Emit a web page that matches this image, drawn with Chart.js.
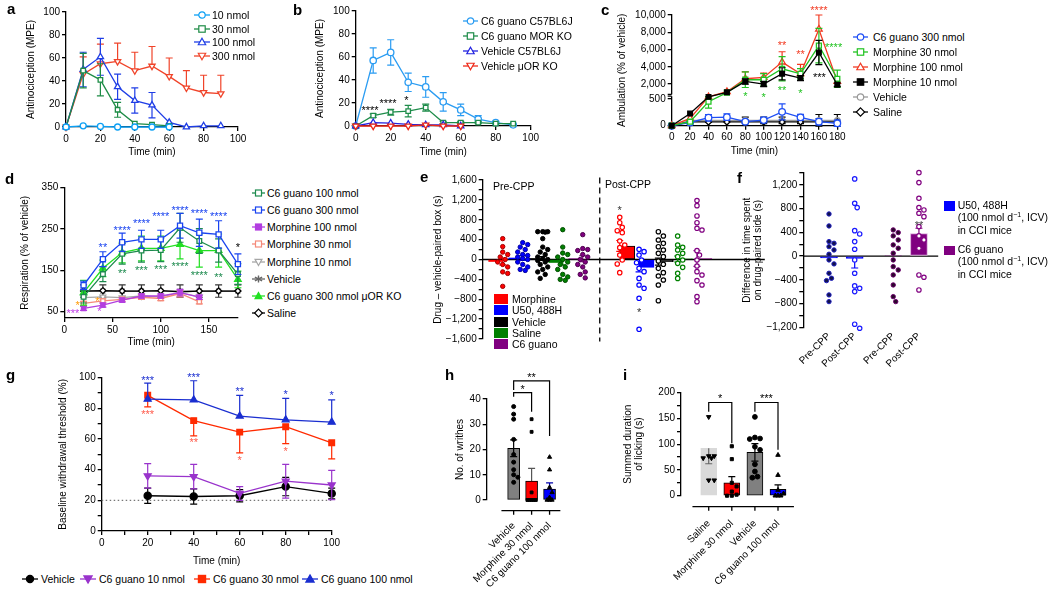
<!DOCTYPE html>
<html>
<head>
<meta charset="utf-8">
<title>Figure</title>
<script src="https://cdn.jsdelivr.net/npm/chart.js@4.4.1/dist/chart.umd.min.js"></script>
<style>
  html, body { margin: 0; padding: 0; background: #fff; }
  body { position: relative; width: 1050px; height: 591px; overflow: hidden; font-family: "Liberation Sans", Arial, sans-serif; color: #000; }
  canvas { position: absolute; }
  .letter { position: absolute; font-weight: bold; font-size: 15px; line-height: 15px; }
  .row { position: absolute; display: flex; align-items: center; height: 12px; font-size: 10.5px; white-space: nowrap; }
  .row svg { flex: none; }
  .txt { position: absolute; font-size: 10.5px; white-space: nowrap; line-height: 12px; }
  .txt sup { font-size: 7px; line-height: 0; }
</style>
</head>
<body>
<script>
const FONT = '"Liberation Sans", Arial, Helvetica, sans-serif';

// ---- a: antinociception by dose ----
const aTime = [0, 10, 20, 30, 40, 50, 60, 70, 80, 90];
const a10nmol = [0, 1, 0.5, 0, 0, 0, 0];
const a30nmol = [0, 49, 41, 15, 3, 2, 1];
const a30Sem = [0, 15, 14, 6.5, 0, 0, 0];
const a100nmol = [0, 50, 61, 35, 23, 19, 4, 0, 1, 1];
const a100Sem = [0, 15, 16, 11, 11, 11, 0, 0, 0, 0];
const a300nmol = [0, 46, 55, 57, 49, 53, 44, 34, 30, 29];
const a300Sem = [0, 15, 17, 16, 16, 17, 16, 15, 15, 16];
const aNames = ['10 nmol', '30 nmol', '100 nmol', '300 nmol'];
const aTicks = [0, 20, 40, 60, 80, 100];

// ---- b: knockout ----
const bTime = [0, 10, 20, 30, 40, 50, 60, 70, 80, 90];
const bC6Wt = [0, 57, 64, 38, 34, 21, 14, 6, 3, 1];
const bC6WtSem = [0, 11, 11, 8, 9, 8, 5, 3, 1, 0];
const bC6Ko = [0, 9, 12, 13, 16, 3, 3, 3, 2, 2];
const bC6KoSem = [0, 1.5, 2.5, 5, 3, 1, 1, 1, 0, 0];
const bVehWt = [0, 3, 2.5, 1.5, 1, 1, 0];
const bVehKo = [0, 0, 0, 0, 1, 0, 0];
const bNames = ['C6 guano C57BL6J', 'C6 guano MOR KO', 'Vehicle C57BL6J', 'Vehicle μOR KO'];

// ---- c: ambulation ----
const cTime = [0, 20, 40, 60, 80, 100, 120, 140, 160, 180];
const cC6 = [0, 60, 150, 160, 75, 105, 260, 157, 75, 45];
const cC6Sem = [0, 20, 60, 60, 30, 50, 150, 55, 60, 60];
const cMor30 = [0, 75, 450, 1000, 2500, 2500, 3770, 3190, 6460, 2610];
const cMor30Sem = [0, 20, 120, 0, 900, 700, 1400, 600, 2000, 1000];
const cMor100 = [0, 137, 543, 1107, 2615, 2770, 4540, 3190, 8350, 2300];
const cMor100Sem = [0, 0, 0, 0, 800, 500, 1200, 1100, 1650, 0];
const cMor10 = [0, 230, 543, 1040, 2300, 2000, 3190, 2690, 5650, 1920];
const cMor10Sem = [0, 0, 0, 0, 300, 300, 700, 300, 1400, 200];
const cVeh = [0, 100, 100, 100, 100, 100, 100, 100, 100, 100];
const cVehSem = [0, 0, 40, 0, 60, 60, 60, 60, 110, 110];
const cSal = [0, 70, 70, 70, 70, 70, 70, 70, 70, 70];
const cNames = ['C6 guano 300 nmol', 'Morphine 30 nmol', 'Morphine 100 nmol', 'Morphine 10 nmol', 'Vehicle', 'Saline'];
const cTicksY = [0, 500, 2000, 4000, 6000, 8000, 10000];
const cTicksX = [0, 20, 40, 60, 80, 100, 120, 140, 160, 180];

// ---- d: respiration ----
const dTime = [20, 40, 60, 80, 100, 120, 140, 160, 180];
const dC6g100 = [86, 141, 190, 198, 199, 253, 221, 198, 141];
const dC6g100Sem = [15, 18, 25, 28, 28, 35, 30, 28, 25];
const dC6g300 = [114, 177, 218, 225, 225, 258, 241, 237, 165];
const dC6g300Sem = [10, 18, 22, 22, 22, 30, 33, 33, 25];
const dMor100 = [58, 66, 78, 88, 88, 96, 85];
const dMor100Sem = [5, 5, 5, 5, 5, 8, 5];
const dMor30 = [70, 76, 80, 85, 82, 94, 74];
const dMor30Sem = [5, 5, 5, 5, 5, 8, 5];
const dMor10 = [84, 86, 84, 88, 86, 96, 86];
const dVeh = [100, 100, 100, 100, 100, 100, 100, 100, 100];
const dVehSem = [15, 15, 15, 15, 15, 15, 15, 15, 15];
const dC6Ko = [96, 155, 193, 203, 203, 213, 198, 198, 128];
const dC6KoSem = [30, 20, 25, 30, 30, 35, 40, 40, 20];
const dSal = [100, 101, 100, 100, 101, 98, 100, 100, 100];
const dNames = ['C6 guano 100 nmol', 'C6 guano 300 nmol', 'Morphine 100 nmol', 'Morphine 30 nmol', 'Morphine 10 nmol', 'Vehicle', 'C6 guano 300 nmol μOR KO', 'Saline'];

// ---- e: CPP ----
const eGroups = ['Morphine', 'U50, 488H', 'Vehicle', 'Saline', 'C6 guano'];
const ePre = [
  [420, 260, 150, 100, 50, 0, -50, -100, -150, -250, -280, -540],
  [340, 300, 250, 200, 150, 100, 80, 50, 20, 0, -50, -100, -150, -200, -220],
  [560, 560, 560, 550, 420, 250, 200, 150, 100, 50, 20, 0, -20, -50, -100, -150, -200, -250, -300, -380],
  [600, 250, 130, 100, 50, 0, -50, -100, -150, -200, -300, -350, -400, -420],
  [500, 220, 200, 180, 100, 50, 0, -50, -100, -150, -250, -300, -370]
];
const ePost = [
  [849, 741, 648, 580, 540, 372, 292, 238, 90, -10, -90, -265],
  [205, 158, 90, -10, -64, -178, -245, -380, -513, -580, -781, -1405],
  [560, 473, 392, 325, 258, 191, 124, 57, -30, -97, -178, -265, -332, -413, -513, -829],
  [473, 292, 245, 191, 124, 57, -10, -77, -158, -278, -380],
  [1185, 1084, 876, 741, 628, 594, 178, 90, -10, -131, -245, -312, -426, -513, -748, -849]
];
const eMeanPre = [-40, 30, 20, -60, 15];
const eSemPre = [70, 50, 40, 50, 60];
const eMeanPost = [272, -158, -44, 10, 20];
const eSemPost = [110, 90, 70, 60, 160];

// ---- f: CPP in CCI mice ----
const fCats = ['Pre-CPP', 'Post-CPP', 'Pre-CPP', 'Post-CPP'];
const fPreU50 = [711, 509, 245, 217, 160, 104, 32, -64, -131, -289, -373, -413, -654, -767];
const fPostU50 = [1302, 892, 818, 430, 374, 245, 116, -64, -289, -502, -542, -598, -1148, -1216];
const fPreC6 = [442, 397, 341, 273, 189, 133, 49, -64, -177, -233, -317, -486, -683, -767];
const fPostC6 = [1408, 1240, 976, 818, 779, 723, 666, 498, 341, 273, 133, -317, -356, -570];
const fMeans = [-30, -40, 10, 380];
const fSem = [0, 160, 0, 90];

// ---- g: withdrawal threshold ----
const gTime = [20, 40, 60, 80, 100];
const gVeh = [23, 22.5, 23, 29, 24.5];
const gVehSem = [5, 5, 4, 6, 3.5];
const gC6g10 = [36, 35.5, 24.5, 32.5, 30];
const gC6g10Sem = [8, 8, 4.5, 11, 9.5];
const gC6g30 = [88.5, 72, 64.5, 68, 57.5];
const gC6g30Sem = [7.5, 10, 13.5, 11, 10.5];
const gC6g100 = [86, 85.5, 75, 72.5, 71];
const gC6g100Sem = [10.5, 12.5, 13.5, 14, 14.5];
const gNames = ['Vehicle', 'C6 guano 10 nmol', 'C6 guano 30 nmol', 'C6 guano 100 nmol'];

// ---- h: writhes ----
const hCats = ['Vehicle', 'Morphine 30 nmol', 'C6 guano 100 nmol'];
const hMeans = [20.5, 7.5, 4.3];
const hSem = [3.3, 5, 2.5];
const hVeh = [37, 34, 32, 24, 18, 15, 12, 10, 9, 7];
const hMor = [32, 27, 3, 0, 0, 0, 0, 0];
const hC6 = [17, 12, 5, 3, 1, 0, 0, 0];

// ---- i: licking ----
const iCats = ['Saline', 'Morphine 30 nmol', 'Vehicle', 'C6 guano 100 nmol'];
const iMeans = [92, 25, 84, 12.4];
const iSem = [30, 12, 17, 8.6];
const iSal = [153, 77, 77, 73, 73, 30, 30];
const iMor = [96, 71, 25, 18, 8, 2, 0, 0];
const iVeh = [153, 113, 111, 110, 95, 89, 61, 47, 37, 35];
const iC6 = [79, 40, 11, 4, 0, 0, 0];

// ---------- setup ----------
Chart.defaults.font.family = FONT;
Chart.defaults.font.size = 10;
Chart.defaults.color = '#000';
Chart.defaults.animation = false;
Chart.defaults.events = [];

// broken y axis for panel c
const C_BREAK = { lo: 540, hi: 880, loF: 0.26, hiF: 0.289 };
class BrokenScale extends Chart.LinearScale {
  getPixelForValue(v) {
    const b = C_BREAK;
    let f;
    if (v <= b.lo) f = v / b.lo * b.loF;
    else if (v >= b.hi) f = b.hiF + (v - b.hi) / (this.max - b.hi) * (1 - b.hiF);
    else f = b.loF + (v - b.lo) / (b.hi - b.lo) * (b.hiF - b.loF);
    return this.bottom - f * (this.bottom - this.top);
  }
  getValueForPixel(p) {
    return (this.bottom - p) / (this.bottom - this.top) * this.max;
  }
}
BrokenScale.id = 'broken';
BrokenScale.defaults = Chart.LinearScale.defaults;
Chart.register(BrokenScale);

const fmt = v => (v < 0 ? '\u2212' : '') + Math.abs(v).toLocaleString('en-US');
const pts = (xs, ys) => ys.map((y, i) => ({ x: xs[i], y }));
const range = (a, b, s) => { const r = []; for (let v = a; v <= b + 1e-9; v += s) r.push(v); return r; };

function axis(o) {
  const lab = o.names
    ? (v => { const i = o.at.indexOf(v); return i < 0 ? '' : o.names[i]; })
    : (v => (!o.show || o.show.includes(v)) ? fmt(v) : '');
  const marks = o.marks !== false;
  return {
    type: o.type || 'linear',
    position: o.pos,
    display: o.display !== false,
    offset: false,
    min: o.min, max: o.max,
    border: { display: o.line !== false, color: '#000', width: 1.3 },
    grid: { display: marks, offset: false, drawOnChartArea: false, drawTicks: marks, tickLength: 4, color: '#000', lineWidth: 1.3 },
    ticks: { padding: o.pad != null ? o.pad : 2, autoSkip: false, maxRotation: o.rot || 0, minRotation: o.rot || 0, color: '#000', font: { size: 10 }, callback: lab },
    afterBuildTicks: s => { s.ticks = o.at.map(v => ({ value: v })); },
    afterFit: s => { if (o.pos === 'left') s.width = o.size; else s.height = o.size; },
    title: o.title
      ? { display: true, text: o.title, color: '#000', font: { size: 10, lineHeight: 1.15 }, padding: { top: o.tp || 0, bottom: o.tb || 0 } }
      : { display: false }
  };
}

function drawErr(chart, i) {
  const ds = chart.data.datasets[i];
  if (!ds.sem) return;
  const ctx = chart.ctx, xs = chart.scales.x, ys = chart.scales.y;
  ctx.save();
  ctx.lineWidth = 1.2;
  const cap = ds.cap != null ? ds.cap : 3.5;
  ds.data.forEach((p, k) => {
    const e = ds.sem[k];
    if (!e) return;
    const dir = Array.isArray(ds.errDir) ? ds.errDir[k] : (ds.errDir || 'both');
    ctx.strokeStyle = Array.isArray(ds.errColor) ? ds.errColor[k] : (ds.errColor || ds.borderColor);
    const x = xs.getPixelForValue(p.x);
    const yTop = ys.getPixelForValue(dir === 'down' ? p.y : p.y + e);
    const yBot = ys.getPixelForValue(dir === 'up' ? p.y : p.y - e);
    ctx.beginPath();
    ctx.moveTo(x, yTop); ctx.lineTo(x, yBot);
    if (dir !== 'down') { ctx.moveTo(x - cap, yTop); ctx.lineTo(x + cap, yTop); }
    if (dir !== 'up') { ctx.moveTo(x - cap, yBot); ctx.lineTo(x + cap, yBot); }
    ctx.stroke();
  });
  ctx.restore();
}

const errPlugin = {
  id: 'errs',
  beforeDatasetDraw(chart, args) { if (!chart.data.datasets[args.index].errAfter) drawErr(chart, args.index); },
  afterDatasetDraw(chart, args) { if (chart.data.datasets[args.index].errAfter) drawErr(chart, args.index); }
};

function extrasPlugin(ex) {
  return {
    id: 'extras',
    beforeDatasetsDraw(chart) {
      const ctx = chart.ctx, xs = chart.scales.x, ys = chart.scales.y, a = chart.chartArea;
      ctx.save();
      (ex.hlines || []).forEach(h => {
        ctx.strokeStyle = h.color || '#000';
        ctx.lineWidth = h.lw || 1.3;
        ctx.setLineDash(h.dash || []);
        const y = ys.getPixelForValue(h.y);
        ctx.beginPath();
        ctx.moveTo(h.x1 != null ? xs.getPixelForValue(h.x1) : a.left, y);
        ctx.lineTo(h.x2 != null ? xs.getPixelForValue(h.x2) : a.right, y);
        ctx.stroke();
      });
      (ex.vlines || []).forEach(v => {
        ctx.strokeStyle = v.color || '#000';
        ctx.lineWidth = v.lw || 1.3;
        ctx.setLineDash(v.dash || []);
        const x = xs.getPixelForValue(v.x);
        ctx.beginPath();
        ctx.moveTo(x, ys.getPixelForValue(v.y1));
        ctx.lineTo(x, ys.getPixelForValue(v.y2));
        ctx.stroke();
      });
      ctx.restore();
    },
    afterDraw(chart) {
      const ctx = chart.ctx, xs = chart.scales.x, ys = chart.scales.y, a = chart.chartArea;
      const px = v => xs.getPixelForValue(v), py = v => ys.getPixelForValue(v);
      ctx.save();
      ctx.font = '11px ' + FONT;
      ctx.textAlign = 'center';
      ctx.textBaseline = 'alphabetic';
      (ex.stars || []).forEach(s => {
        ctx.fillStyle = s.c || '#000';
        ctx.fillText(s.t, px(s.x), py(s.y) + 6);
      });
      ctx.strokeStyle = '#000';
      ctx.fillStyle = '#000';
      ctx.lineWidth = 1.2;
      (ex.brackets || []).forEach(b => {
        const x1 = px(b.x1), x2 = px(b.x2), y = py(b.y);
        ctx.beginPath();
        ctx.moveTo(x1, py(b.l1)); ctx.lineTo(x1, y); ctx.lineTo(x2, y); ctx.lineTo(x2, py(b.l2));
        ctx.stroke();
        ctx.fillText(b.t, (x1 + x2) / 2, y);
      });
      if (ex.offAxis) {
        const o = ex.offAxis, y = a.bottom + o.gap;
        ctx.lineWidth = 1.3;
        ctx.beginPath();
        ctx.moveTo(px(o.from), y); ctx.lineTo(a.right, y);
        o.at.forEach(v => { ctx.moveTo(px(v), y); ctx.lineTo(px(v), y + 4); });
        ctx.stroke();
      }
      if (ex.brk) {
        const yLo = py(C_BREAK.lo), yHi = py(C_BREAK.hi), x = a.left;
        ctx.fillStyle = '#fff';
        ctx.fillRect(x - 2, yHi + 0.7, 4, yLo - yHi - 1.4);
        ctx.lineWidth = 1.3;
        ctx.beginPath();
        ctx.moveTo(x - 4, yHi + 0.7); ctx.lineTo(x, yHi + 0.7);
        ctx.moveTo(x - 4, yLo - 0.7); ctx.lineTo(x, yLo - 0.7);
        ctx.stroke();
      }
      ctx.restore();
    }
  };
}

function makeChart(rect, pad, scales, datasets, ex) {
  const cv = document.createElement('canvas');
  cv.width = rect[2]; cv.height = rect[3];
  cv.style.left = rect[0] + 'px'; cv.style.top = rect[1] + 'px';
  cv.style.width = rect[2] + 'px'; cv.style.height = rect[3] + 'px';
  document.body.appendChild(cv);
  return new Chart(cv, {
    type: 'scatter',
    data: { datasets },
    options: {
      responsive: false, animation: false, devicePixelRatio: 1,
      layout: { padding: pad },
      scales,
      plugins: { legend: { display: false }, tooltip: { enabled: false } }
    },
    plugins: [errPlugin, extrasPlugin(ex || {})]
  });
}

function lineDs(xs, ys, st, sem) {
  return {
    type: 'line', data: pts(xs, ys), borderColor: st.c, borderWidth: 1.3, tension: 0,
    pointStyle: st.shape, pointRotation: st.rot || 0, pointRadius: st.r || 3,
    pointBackgroundColor: st.fill || '#fff', pointBorderColor: st.c, pointBorderWidth: 1.3,
    sem, errDir: st.dir || 'both', errColor: st.ec || st.c, clip: false
  };
}

// simple beeswarm: spread points sideways (in px) when they would overlap
function swarm(vals, cx, xPx, yPx, d, maxOff) {
  const placed = [];
  const cands = [0];
  for (let k = 1; k * d * 0.5 <= maxOff + 1e-6; k++) cands.push(k * d * 0.5, -k * d * 0.5);
  return vals.map(v => {
    let best = 0, bestScore = -1;
    for (const o of cands) {
      const m = placed.reduce((acc, p) => Math.min(acc, Math.hypot(p.o - o, (p.v - v) * yPx)), Infinity);
      if (m >= d) { best = o; break; }
      if (m > bestScore) { bestScore = m; best = o; }
    }
    placed.push({ o: best, v });
    return { x: cx + best / xPx, y: v };
  });
}

function stripDs(vals, cx, st, xPx, yPx) {
  return {
    type: 'scatter', data: swarm(vals, cx, xPx, yPx, 2 * st.r + 0.6, st.spread || 6),
    pointStyle: st.shape, pointRotation: st.rot || 0, pointRadius: st.r,
    pointBackgroundColor: st.fill, pointBorderColor: st.c, pointBorderWidth: st.bw || 1, clip: false
  };
}

function barDs(xs, ys, st) {
  return {
    type: 'bar', data: pts(xs, ys), backgroundColor: st.fill, borderColor: st.border,
    borderWidth: st.bw, borderSkipped: false, barThickness: st.w, order: 5,
    sem: st.sem, errDir: st.dir, errColor: st.ec, errAfter: true, clip: false
  };
}

function markerSvg(st, cx, cy, s) {
  const a = `fill="${st.fill || '#fff'}" stroke="${st.c}" stroke-width="1.2"`;
  if (st.shape === 'circle') return `<circle cx="${cx}" cy="${cy}" r="${s}" ${a}/>`;
  if (st.shape === 'rect') return `<rect x="${cx - s}" y="${cy - s}" width="${2 * s}" height="${2 * s}" ${a}/>`;
  if (st.shape === 'rectRot') { const q = s * 1.3; return `<polygon points="${cx},${cy - q} ${cx + q},${cy} ${cx},${cy + q} ${cx - q},${cy}" ${a}/>`; }
  if (st.shape === 'star') { const q = s * 1.2; return `<path d="M${cx} ${cy - q}V${cy + q}M${cx - q} ${cy - q * 0.5}L${cx + q} ${cy + q * 0.5}M${cx - q} ${cy + q * 0.5}L${cx + q} ${cy - q * 0.5}" stroke="${st.c}" stroke-width="1.4"/>`; }
  const q = s * 1.15, d = st.rot ? -1 : 1;
  return `<polygon points="${cx},${cy - d * q} ${cx + q},${cy + d * q * 0.75} ${cx - q},${cy + d * q * 0.75}" ${a}/>`;
}

function legendRow(x, yc, name, st, w, gap, s) {
  const d = document.createElement('div');
  d.className = 'row';
  d.style.left = x + 'px';
  d.style.top = (yc - 6) + 'px';
  d.innerHTML = `<svg width="${w}" height="12" style="margin-right:${gap}px"><line x1="0" y1="6" x2="${w}" y2="6" stroke="${st.lc || st.c}" stroke-width="1.3"/>${markerSvg(st, w / 2, 6, s)}</svg><span>${name}</span>`;
  document.body.appendChild(d);
}

function text(x, top, html, cls) {
  const d = document.createElement('div');
  d.className = cls || 'txt';
  d.style.left = x + 'px';
  d.style.top = top + 'px';
  d.innerHTML = html;
  document.body.appendChild(d);
}

// ---------- a ----------
const aStyles = [
  { c: '#0ba0f5', shape: 'circle', r: 3 },
  { c: '#1e8c46', shape: 'rect', r: 3.2 },
  { c: '#1f3ee6', shape: 'triangle', r: 3.6 },
  { c: '#f0442a', shape: 'triangle', rot: 180, r: 3.6, dir: 'up' }
];
makeChart([0, 0, 250, 160], { left: 0, top: 12, right: 12, bottom: 0 }, {
  x: axis({ pos: 'bottom', min: 0, max: 100, at: aTicks, size: 33, title: 'Time (min)', tb: 2.25 }),
  y: axis({ pos: 'left', min: 0, max: 100, at: aTicks, size: 66, title: 'Antinociception (MPE)', tp: 25.25 })
}, [
  lineDs(aTime, a10nmol, aStyles[0], null),
  lineDs(aTime, a30nmol, aStyles[1], a30Sem),
  lineDs(aTime, a100nmol, aStyles[2], a100Sem),
  lineDs(aTime, a300nmol, aStyles[3], a300Sem)
]);
aNames.forEach((n, k) => legendRow(194, 15 + k * 13.6, n, aStyles[k], 16, 2, 3.2));

// ---------- b ----------
const bStyles = [
  { c: '#2a9cf2', shape: 'circle', r: 3.2 },
  { c: '#1e8c4a', shape: 'rect', r: 3.2 },
  { c: '#2222e0', shape: 'triangle', r: 3.6 },
  { c: '#ee2a1a', shape: 'triangle', rot: 180, r: 3.6 }
];
makeChart([260, 0, 285, 160], { left: 40, top: 11, right: 14.3, bottom: 0 }, {
  x: axis({ pos: 'bottom', min: 0, max: 100, at: aTicks, size: 34, title: 'Time (min)', tb: 2.25 }),
  y: axis({ pos: 'left', min: 0, max: 100, at: aTicks, size: 55.7, title: 'Antinociception (MPE)', tp: 14.25 })
}, [
  lineDs(bTime, bVehKo, bStyles[3], null),
  lineDs(bTime, bVehWt, bStyles[2], null),
  lineDs(bTime, bC6Ko, bStyles[1], bC6KoSem),
  lineDs(bTime, bC6Wt, bStyles[0], bC6WtSem)
], {
  stars: [{ x: 8.2, y: 15.4, t: '****' }, { x: 18.5, y: 22, t: '****' }, { x: 29, y: 24.6, t: '*' }]
});
bNames.forEach((n, k) => legendRow(463, 21 + k * 15, n, bStyles[k], 15, 3, 3.2));

// ---------- c ----------
const cStyles = [
  { c: '#1f4ff5', shape: 'circle', r: 3.3 },
  { c: '#22c322', shape: 'rect', r: 3.5 },
  { c: '#f23a22', shape: 'triangle', r: 3.8, dir: 'up' },
  { c: '#000000', shape: 'rect', r: 3.3, fill: '#000' },
  { c: '#9a9a9a', shape: 'circle', r: 2.6, ec: '#000' },
  { c: '#000000', shape: 'rectRot', r: 3 }
];
makeChart([590, 0, 260, 160], { left: 0, top: 15, right: 12.7, bottom: 0 }, {
  x: axis({ pos: 'bottom', min: 0, max: 180, at: cTicksX, size: 34.3, title: 'Time (min)', tb: 2.55 }),
  y: axis({ pos: 'left', type: 'broken', min: 0, max: 10000, at: cTicksY, size: 81.7, title: 'Ambulation (% of vehicle)', tp: 26 })
}, [
  lineDs(cTime, cMor10, cStyles[3], cMor10Sem),
  lineDs(cTime, cMor30, cStyles[1], cMor30Sem),
  lineDs(cTime, cMor100, cStyles[2], cMor100Sem),
  lineDs(cTime, cC6, cStyles[0], cC6Sem),
  lineDs(cTime, cSal, cStyles[5], null),
  lineDs(cTime, cVeh, cStyles[4], cVehSem)
], {
  brk: true,
  stars: [
    { x: 120, y: 6730, t: '**', c: '#f23a22' }, { x: 140, y: 5730, t: '**', c: '#f23a22' },
    { x: 160, y: 10770, t: '****', c: '#f23a22' },
    { x: 80, y: 800, t: '*', c: '#22c322' }, { x: 100, y: 700, t: '*', c: '#22c322' },
    { x: 120, y: 1500, t: '**', c: '#22c322' }, { x: 140, y: 1220, t: '*', c: '#22c322' },
    { x: 176, y: 6500, t: '****', c: '#22c322' },
    { x: 160.6, y: 3070, t: '***', c: '#000' }
  ]
});
cNames.forEach((n, k) => legendRow(853, 36.7 + k * 15, n, cStyles[k], 15, 5, 3.2));

// ---------- d ----------
const dStyles = [
  { c: '#1d8a4e', shape: 'rect', r: 3.3 },
  { c: '#1a44f0', shape: 'rect', r: 3.6 },
  { c: '#b23ee0', shape: 'rect', r: 3, fill: '#b23ee0' },
  { c: '#f58a7a', shape: 'rect', r: 3 },
  { c: '#a6a6a6', shape: 'triangle', rot: 180, r: 3.4 },
  { c: '#666666', shape: 'star', r: 3.4, ec: '#333' },
  { c: '#22e022', shape: 'triangle', r: 3.8, fill: '#22e022' },
  { c: '#000000', shape: 'rectRot', r: 3 }
];
makeChart([0, 160, 250, 190], { left: 0, top: 27.7, right: 12.1, bottom: 0 }, {
  x: axis({ pos: 'bottom', min: 0, max: 180, at: [0, 50, 100, 150], size: 32.1, title: 'Time (min)', tb: 1.55 }),
  y: axis({ pos: 'left', min: 35, max: 350, at: [50, 150, 250, 350], size: 64.3, title: 'Respiration (% of vehicle)', tp: 19.25 })
}, [
  lineDs(dTime, dC6g300, dStyles[1], dC6g300Sem),
  lineDs(dTime, dC6g100, dStyles[0], dC6g100Sem),
  lineDs(dTime, dC6Ko, dStyles[6], dC6KoSem),
  lineDs(dTime, dMor100, dStyles[2], dMor100Sem),
  lineDs(dTime, dMor30, dStyles[3], dMor30Sem),
  lineDs(dTime, dMor10, dStyles[4], null),
  lineDs(dTime, dSal, dStyles[7], null),
  lineDs(dTime, dVeh, dStyles[5], dVehSem)
], {
  stars: [
    { x: 40, y: 211, t: '**', c: '#1a44f0' }, { x: 60, y: 253, t: '****', c: '#1a44f0' },
    { x: 80, y: 269.5, t: '****', c: '#1a44f0' }, { x: 100, y: 285.6, t: '****', c: '#1a44f0' },
    { x: 120, y: 301.6, t: '****', c: '#1a44f0' }, { x: 140, y: 293.6, t: '****', c: '#1a44f0' },
    { x: 160, y: 285.6, t: '****', c: '#1a44f0' }, { x: 180, y: 211, t: '*', c: '#000' },
    { x: 60, y: 148.5, t: '**', c: '#1d8a4e' }, { x: 80, y: 155, t: '***', c: '#1d8a4e' },
    { x: 100, y: 157.4, t: '***', c: '#1d8a4e' }, { x: 120, y: 164.7, t: '****', c: '#1d8a4e' },
    { x: 140, y: 143, t: '****', c: '#1d8a4e' }, { x: 160, y: 138.8, t: '**', c: '#1d8a4e' },
    { x: 9, y: 52.6, t: '***', c: '#c040e8' }, { x: 36.3, y: 56, t: '*', c: '#c040e8' },
    { x: 13.9, y: 71.8, t: '*', c: '#ff9900' }, { x: 34.2, y: 80, t: '*', c: '#ff9900' }
  ]
});
dNames.forEach((n, k) => legendRow(252, 193.3 + k * 17.05, n, dStyles[k], 13, 2, 3));

// ---------- e ----------
const eColors = ['#ff0000', '#0000ff', '#000000', '#008000', '#800080'];
const eEdge = ['#a00000', '#0000a0', '#000000', '#004d00', '#4d004d'];
const ePrePos = eGroups.map((_, i) => 1 + i);
const ePostPos = eGroups.map((_, i) => 6.85 + 0.965 * i);
const eDatasets = [];
ePre.forEach((vals, i) => eDatasets.push(stripDs(vals, ePrePos[i], { c: eEdge[i], fill: eColors[i], shape: 'circle', r: 2.2, spread: 5.5 }, 20, 0.0497)));
ePost.forEach((vals, i) => eDatasets.push(stripDs(vals, ePostPos[i], { c: eColors[i], fill: '#fff', shape: 'circle', r: 2.2, bw: 1.2, spread: 5.5 }, 20, 0.0497)));
eDatasets.push(barDs(ePrePos, eMeanPre, { fill: eColors, border: eColors, bw: 0, w: 14, sem: eSemPre, dir: 'both', ec: eColors }));
eDatasets.push(barDs(ePostPos, eMeanPost, { fill: eColors, border: ['#000', '#0000ff', '#000', '#008000', '#800080'], bw: 1, w: 15, sem: eSemPost, dir: 'both', ec: eColors }));
makeChart([420, 160, 350, 190], { left: 0, top: 20, right: 5, bottom: 11 }, {
  x: axis({ pos: 'bottom', display: false, min: 0, max: 14.1, at: [0, 14.1], size: 0 }),
  y: axis({ pos: 'left', min: -1600, max: 1600, at: range(-1600, 1600, 200), show: range(-1600, 1600, 400), size: 62.7, title: 'Drug \u2013 vehicle-paired box (s)', tp: 12 })
}, eDatasets, {
  hlines: [{ y: 0, x1: 0, x2: 14.1 }],
  vlines: [{ x: 5.85, y1: 1650, y2: -1650, dash: [6, 4] }],
  stars: [{ x: ePostPos[0], y: 1042, t: '*', c: '#333' }, { x: ePostPos[1], y: -1016, t: '*', c: '#333' }]
});
text(493, 180, 'Pre-CPP');
text(605, 178, 'Post-CPP');
eGroups.forEach((n, k) => {
  const yc = 299 + k * 11.3;
  text(494, yc - 5, `<span style="display:inline-block;width:14px;height:10px;background:${eColors[k]}"></span>`);
  text(512, yc - 6, n);
});

// ---------- f ----------
const fPos = [1, 2, 3.5, 4.5];
makeChart([740, 160, 205, 210], { left: 0, top: 13.1, right: 6.8, bottom: 0 }, {
  x: axis({ pos: 'bottom', min: 0, max: 5.25, at: fPos, names: fCats, rot: 45, line: false, marks: false, pad: 3, size: 42.7 }),
  y: axis({ pos: 'left', min: -1200, max: 1400, at: range(-1200, 1400, 200), show: range(-1200, 1200, 400), size: 63.3, title: ['Difference in time spent', 'on drug-paired side (s)'], tp: 1 })
}, [
  stripDs(fPreU50, fPos[0], { c: '#2020c0', fill: '#12124a', shape: 'circle', r: 2.2, spread: 7 }, 25.7, 0.0593),
  stripDs(fPostU50, fPos[1], { c: '#1a1aff', fill: '#fff', shape: 'circle', r: 2.2, bw: 1.2, spread: 7 }, 25.7, 0.0593),
  stripDs(fPreC6, fPos[2], { c: '#6a006a', fill: '#2a082a', shape: 'circle', r: 2.2, spread: 7 }, 25.7, 0.0593),
  stripDs(fPostC6, fPos[3], { c: '#800080', fill: '#fff', shape: 'circle', r: 2.2, bw: 1.2, spread: 7 }, 25.7, 0.0593),
  barDs(fPos, fMeans, { fill: ['#0000ff', '#0000ff', '#800080', '#800080'], border: ['#0000ff', '#0000ff', '#800080', '#d9a6d9'], bw: 1, w: 17, sem: fSem, dir: ['both', 'down', 'both', 'up'], ec: ['#0000ff', '#0000ff', '#800080', '#800080'] })
], {
  hlines: [{ y: 0, x1: 0, x2: 5.25 }],
  stars: [{ x: 4.5, y: 560, t: '**', c: '#444' }]
});
text(944, 200.7, '<span style="display:inline-block;width:11px;height:9.5px;background:#0000ff"></span>');
text(957.7, 199, 'U50, 488H');
text(957.7, 211.4, '(100 nmol d<sup>\u22121</sup>, ICV)');
text(957.7, 223.8, 'in CCI mice');
text(944, 245, '<span style="display:inline-block;width:11px;height:9.5px;background:#800080"></span>');
text(957.7, 243, 'C6 guano');
text(957.7, 255.4, '(100 nmol d<sup>\u22121</sup>, ICV)');
text(957.7, 267.8, 'in CCI mice');

// ---------- g ----------
const gStyles = [
  { c: '#000000', shape: 'circle', r: 3.6, fill: '#000' },
  { c: '#9933cc', shape: 'triangle', rot: 180, r: 4, fill: '#9933cc' },
  { c: '#ff2a00', shape: 'rect', r: 4, fill: '#ff2a00', dir: 'down' },
  { c: '#1a2ed0', shape: 'triangle', r: 4, fill: '#1a2ed0', dir: 'up' }
];
makeChart([0, 350, 350, 222], { left: 0, top: 27.7, right: 18.3, bottom: 0 }, {
  x: axis({ pos: 'bottom', min: 0, max: 100, at: range(0, 100, 10), show: aTicks, size: 41, title: 'Time (min)', tb: 4.55 }),
  y: axis({ pos: 'left', min: 0, max: 100, at: range(0, 100, 10), show: aTicks, size: 101.7, title: 'Baseline withdrawal threshold (%)', tp: 57.5 })
}, [
  lineDs(gTime, gC6g100, gStyles[3], gC6g100Sem),
  lineDs(gTime, gC6g30, gStyles[2], gC6g30Sem),
  lineDs(gTime, gC6g10, gStyles[1], gC6g10Sem),
  lineDs(gTime, gVeh, gStyles[0], gVehSem)
], {
  hlines: [{ y: 20, x1: 0, x2: 100, dash: [1.5, 2.5], color: '#777', lw: 1.2 }],
  stars: [
    { x: 20, y: 100, t: '***', c: '#1a2ed0' }, { x: 40, y: 101.8, t: '***', c: '#1a2ed0' },
    { x: 60, y: 92.4, t: '**', c: '#1a2ed0' }, { x: 80, y: 90.9, t: '*', c: '#1a2ed0' },
    { x: 100, y: 90.2, t: '*', c: '#1a2ed0' },
    { x: 20, y: 77.8, t: '***', c: '#ff5a4a' }, { x: 40, y: 59.4, t: '**', c: '#ff5a4a' },
    { x: 60, y: 47.4, t: '*', c: '#ff5a4a' }, { x: 80, y: 53.3, t: '*', c: '#ff5a4a' }
  ]
});
const gLegendX = [22, 80, 194, 302];
gNames.forEach((n, k) => legendRow(gLegendX[k], 579.3, n, gStyles[k], 16, 3, 3.6));

// ---------- h ----------
const hPos = [1, 2, 3];
makeChart([420, 350, 160, 241], { left: 0, top: 49, right: 13.3, bottom: 0 }, {
  x: axis({ pos: 'bottom', min: -0.5, max: 3.6, at: hPos, names: hCats, rot: 45, line: false, marks: false, pad: 20, size: 91 }),
  y: axis({ pos: 'left', min: 0, max: 40, at: [0, 10, 20, 30, 40], size: 66.7, title: 'No. of writhes', tp: 34.25 })
}, [
  stripDs(hVeh, hPos[0], { c: '#000', fill: '#000', shape: 'circle', r: 2, spread: 5 }, 19.5, 2.525),
  stripDs(hMor, hPos[1], { c: '#000', fill: '#000', shape: 'rect', r: 2, spread: 5 }, 19.5, 2.525),
  stripDs(hC6, hPos[2], { c: '#000', fill: '#000', shape: 'triangle', r: 2.4, spread: 5 }, 19.5, 2.525),
  barDs(hPos, hMeans, { fill: ['#808080', '#ff0000', '#0000ff'], border: '#000', bw: 1, w: 12, sem: hSem, dir: ['both', 'up', 'up'], ec: ['#000', '#555', '#0000aa'] })
], {
  offAxis: { gap: 10.7, from: 0.32, at: hPos },
  brackets: [
    { x1: 1, x2: 2, y: 42.5, l1: 40.9, l2: 35, t: '*' },
    { x1: 1, x2: 3, y: 47.2, l1: 43.6, l2: 25.3, t: '**' }
  ]
});

// ---------- i ----------
const iPos = [1, 2, 3, 4];
makeChart([600, 350, 210, 241], { left: 0, top: 42.7, right: 10.7, bottom: 0 }, {
  x: axis({ pos: 'bottom', min: -0.2, max: 4.69, at: iPos, names: iCats, rot: 45, line: false, marks: false, pad: 22, size: 95.3 }),
  y: axis({ pos: 'left', min: 0, max: 200, at: range(0, 200, 25), show: range(0, 200, 50), size: 81, title: ['Summed duration', 'of licking (s)'], tp: 22.25 })
}, [
  stripDs(iSal, iPos[0], { c: '#000', fill: '#000', shape: 'triangle', rot: 180, r: 2.6, spread: 6 }, 24.2, 0.515),
  stripDs(iMor, iPos[1], { c: '#000', fill: '#000', shape: 'rect', r: 2.2, spread: 6 }, 24.2, 0.515),
  stripDs(iVeh, iPos[2], { c: '#000', fill: '#000', shape: 'circle', r: 2.4, spread: 6 }, 24.2, 0.515),
  stripDs(iC6, iPos[3], { c: '#000', fill: '#000', shape: 'triangle', r: 2.6, spread: 6 }, 24.2, 0.515),
  barDs(iPos, iMeans, { fill: ['#d9d9d9', '#ff0000', '#808080', '#0000ff'], border: ['#d9d9d9', '#000', '#000', '#000'], bw: 1, w: 16, sem: iSem, dir: ['down', 'up', 'both', 'up'], ec: ['#666', '#000', '#000', '#000'] })
], {
  offAxis: { gap: 11, from: 0.296, at: iPos },
  brackets: [
    { x1: 1, x2: 2, y: 181, l1: 163, l2: 102, t: '*' },
    { x1: 3, x2: 4, y: 181, l1: 163, l2: 89, t: '***' }
  ]
});

// ---------- panel letters ----------
[['a', 7, 0.8], ['b', 293, 2.3], ['c', 601, 2.3], ['d', 5, 170.6], ['e', 420, 169],
 ['f', 737, 170], ['g', 6, 367], ['h', 445, 366.6], ['i', 623, 366.6]]
  .forEach(([t, x, y]) => text(x, y, t, 'letter'));
</script>
</body>
</html>
